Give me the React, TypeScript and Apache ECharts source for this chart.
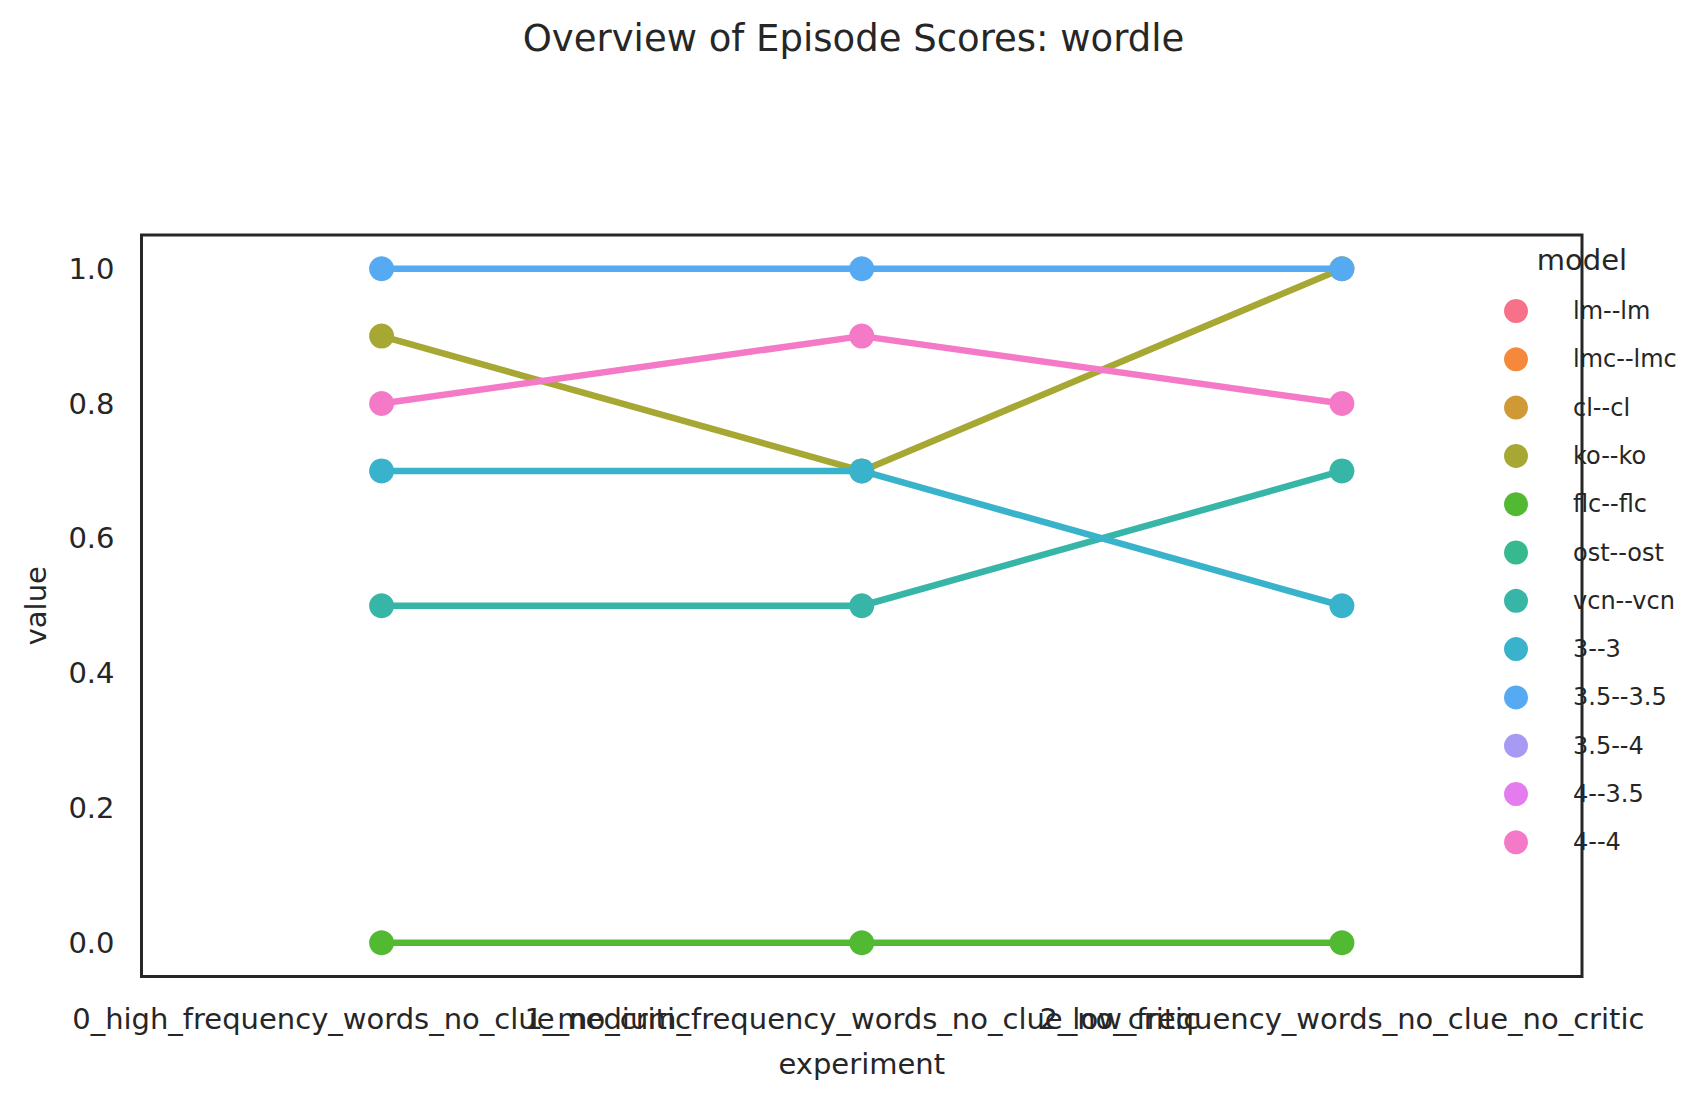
import React, { useEffect, useRef } from "react";
import * as echarts from "echarts";

const experiments = [
  "0_high_frequency_words_no_clue_no_critic",
  "1_medium_frequency_words_no_clue_no_critic",
  "2_low_frequency_words_no_clue_no_critic",
];

const models = [
  "lm--lm",
  "lmc--lmc",
  "cl--cl",
  "ko--ko",
  "flc--flc",
  "ost--ost",
  "vcn--vcn",
  "3--3",
  "3.5--3.5",
  "3.5--4",
  "4--3.5",
  "4--4",
];

const colors = [
  "#f77189",
  "#f5883a",
  "#cf9a36",
  "#a6a833",
  "#52b933",
  "#36b98e",
  "#37b6a8",
  "#39b2cb",
  "#55aaf2",
  "#a69af4",
  "#e47cf0",
  "#f47ac8",
];

const lmValues: (number | null)[] = [null, null, null];
const lmcValues: (number | null)[] = [null, null, null];
const clValues: (number | null)[] = [null, null, null];
const koValues = [0.9, 0.7, 1.0];
const flcValues = [0.0, 0.0, 0.0];
const ostValues: (number | null)[] = [null, null, null];
const vcnValues = [0.5, 0.5, 0.7];
const v3Values = [0.7, 0.7, 0.5];
const v35Values = [1.0, 1.0, 1.0];
const v354Values: (number | null)[] = [null, null, null];
const v435Values: (number | null)[] = [null, null, null];
const v44Values = [0.8, 0.9, 0.8];

const seriesValues = [
  lmValues,
  lmcValues,
  clValues,
  koValues,
  flcValues,
  ostValues,
  vcnValues,
  v3Values,
  v35Values,
  v354Values,
  v435Values,
  v44Values,
];

const yTicks = [0, 0.2, 0.4, 0.6, 0.8, 1.0];

const FONT = "DejaVu Sans";
const DARK = "#262626";

export default function App() {
  const ref = useRef<HTMLDivElement>(null);
  useEffect(() => {
    document.body.style.margin = "0";
    if (!ref.current) return;
    const chart = echarts.init(ref.current, null, { renderer: "svg" });
    const option: any = {
      animation: false,
      backgroundColor: "#ffffff",
      textStyle: { fontFamily: FONT, color: DARK },
      title: {
        text: "Overview of Episode Scores: wordle",
        left: "center",
        top: 15,
        textStyle: { fontFamily: FONT, fontSize: 37, fontWeight: "normal", color: DARK },
      },
      graphic: [
        {
          type: "text",
          x: 1582,
          y: 260,
          z: 10,
          style: {
            text: "model",
            font: `29px ${FONT}`,
            fill: DARK,
            align: "center",
            verticalAlign: "middle",
          },
        },
      ],
      legend: {
        orient: "vertical",
        left: 1499,
        top: 294,
        icon: "circle",
        itemWidth: 24,
        itemHeight: 24,
        itemGap: 24.3,
        textStyle: {
          fontFamily: FONT,
          fontSize: 24,
          lineHeight: 24,
          color: DARK,
          padding: [0, 0, 0, 40],
        },
        data: models,
      },
      grid: {
        left: 141.5,
        right: 125,
        top: 235,
        bottom: 129.5,
        show: true,
        borderColor: DARK,
        borderWidth: 3,
        backgroundColor: "transparent",
      },
      xAxis: {
        type: "category",
        data: experiments,
        boundaryGap: true,
        name: "experiment",
        nameLocation: "middle",
        nameGap: 73,
        nameTextStyle: { fontFamily: FONT, fontSize: 29, color: DARK },
        axisLine: { show: false },
        axisTick: { show: false },
        splitLine: { show: false },
        axisLabel: {
          interval: 0,
          hideOverlap: false,
          margin: 28,
          fontFamily: FONT,
          fontSize: 29,
          color: DARK,
        },
      },
      yAxis: {
        type: "value",
        min: -0.05,
        max: 1.05,
        name: "value",
        nameLocation: "middle",
        nameGap: 91,
        nameTextStyle: { fontFamily: FONT, fontSize: 29, color: DARK },
        axisLine: { show: false },
        axisTick: { show: false },
        splitLine: { show: false },
        axisLabel: {
          customValues: yTicks,
          margin: 27,
          fontFamily: FONT,
          fontSize: 29,
          color: DARK,
          formatter: (v: number) => v.toFixed(1),
        },
      },
      series: models.map((m, i) => ({
        name: m,
        type: "line",
        data: seriesValues[i],
        color: colors[i],
        symbol: "circle",
        symbolSize: 25,
        showSymbol: true,
        lineStyle: { width: 6.5, color: colors[i] },
        itemStyle: { color: colors[i] },
        z: 2 + i * 0.01,
      })),
    };
    chart.setOption(option);
    return () => chart.dispose();
  }, []);
  return <div ref={ref} style={{ width: 1707, height: 1106 }} />;
}
